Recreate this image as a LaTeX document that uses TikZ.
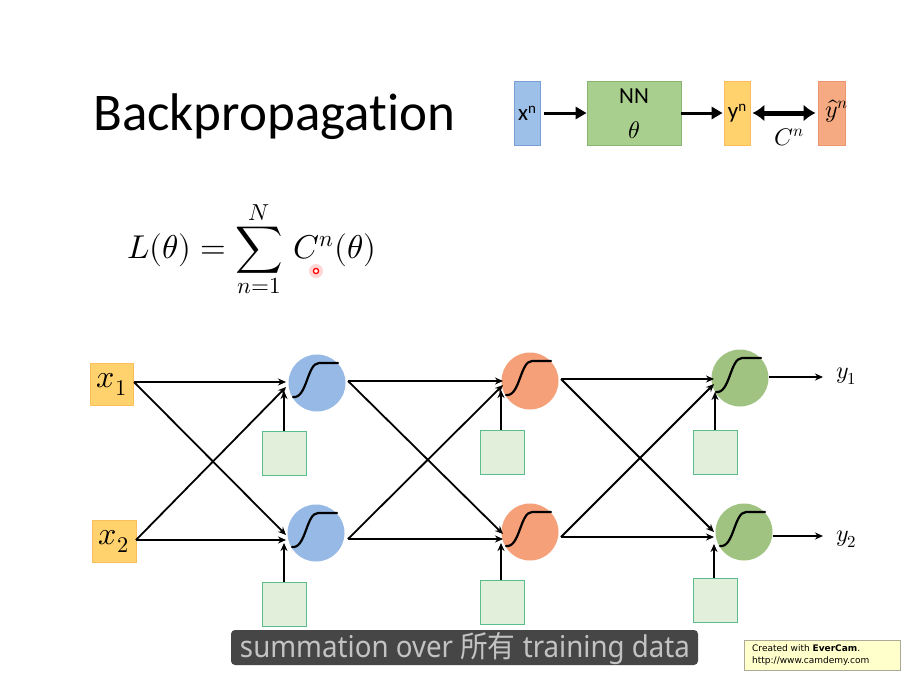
\documentclass[tikz,border=0pt]{standalone}
\usepackage{fontspec}
\usepackage{unicode-math}
\setmainfont{Carlito}[Ligatures={NoCommon}]
\setmathfont{Latin Modern Math}
\newfontfamily\subfont{Noto Sans}
\newfontfamily\cjk{Noto Sans CJK SC}
\newfontfamily\smallfont{DejaVu Sans}
\usetikzlibrary{arrows.meta}
\definecolor{nblue}{RGB}{150,185,230}
\definecolor{norange}{RGB}{245,160,120}
\definecolor{ngreen}{RGB}{160,195,130}
\definecolor{byellow}{RGB}{255,210,110}
\definecolor{ydraw}{RGB}{250,190,90}
\definecolor{biasfill}{RGB}{226,239,218}
\definecolor{biasdraw}{RGB}{90,190,140}
\definecolor{xblue}{RGB}{157,192,232}
\definecolor{xbluedraw}{RGB}{120,160,215}
\definecolor{nngreen}{RGB}{169,207,142}
\definecolor{nngreendraw}{RGB}{135,180,110}
\definecolor{yhatfill}{RGB}{246,170,130}
\definecolor{yhatdraw}{RGB}{235,150,110}
\definecolor{subbg}{RGB}{70,70,70}
\definecolor{subtext}{RGB}{195,195,195}
\definecolor{evyellow}{RGB}{255,255,204}
\definecolor{evgray}{RGB}{170,170,150}
\begin{document}
\begin{tikzpicture}[x=1pt,y=-1pt,
  neuron/.style={circle,minimum size=57pt,inner sep=0pt},
  biasbox/.style={rectangle,draw=biasdraw,fill=biasfill,line width=1pt,minimum width=44pt,minimum height=44pt,inner sep=0pt},
  inbox/.style={rectangle,draw=ydraw,fill=byellow,line width=0.8pt,minimum width=43pt,minimum height=42pt,inner sep=0pt,font=\fontsize{32}{32}\selectfont},
  tbox/.style={rectangle,line width=0.8pt,minimum height=64pt,inner sep=0pt,font=\fontsize{23}{23}\selectfont},
  conn/.style={line width=1.8pt,-{Stealth[length=8pt,width=7pt]}},
  toparrow/.style={line width=3pt,-{Triangle[length=11pt,width=12pt]}},
  sig/.style={line width=2.2pt,line cap=round},
  sigm/.pic={\draw[sig] (-24,14) .. controls (-10,16) and (-10,-20) .. (2,-20) -- (21,-20);},
]
\useasboundingbox (0,0) rectangle (915,675);
\fill[white] (0,0) rectangle (915,675);

% title
\node[anchor=base west,inner sep=0pt,font=\fontsize{53}{60}\selectfont] (title) at (93,130) {Backpropagation};

% top-right diagram
\node[tbox,fill=xblue,draw=xbluedraw,minimum width=26pt] (xn) at (527,113) {x\raisebox{7pt}{\fontsize{15}{15}\selectfont n}};
\node[tbox,fill=nngreen,draw=nngreendraw,minimum width=94pt] (nn) at (634,113) {};
\node[inner sep=0pt,font=\fontsize{23}{23}\selectfont] (nnlabel) at (634,96) {NN};
\node[inner sep=0pt,font=\fontsize{24}{24}\selectfont] (nntheta) at (634,130) {$\theta$};
\node[tbox,fill=byellow,draw=ydraw,minimum width=26pt] (yn) at (737,113) {y\raisebox{7pt}{\fontsize{15}{15}\selectfont n}};
\node[tbox,fill=yhatfill,draw=yhatdraw,minimum width=27pt] (yhat) at (831.5,113) {};
\node[inner sep=0pt,font=\fontsize{24}{24}\selectfont] (yhatlabel) at (837,111) {$\hat{y}^{n}$};
\draw[toparrow,shorten <=4pt] (xn.east) -- (nn.west);
\draw[toparrow] (nn.east) -- ([xshift=-1pt]yn.west);
\draw[line width=5pt,{Latex[length=12pt,width=17pt]}-{Latex[length=12pt,width=17pt]},shorten <=2pt,shorten >=2pt] (yn.east) -- (yhat.west);
\node[inner sep=0pt,font=\fontsize{24}{24}\selectfont] (cn) at (789,137) {$C^{n}$};

% formula
\node[anchor=base west,inner sep=0pt,font=\fontsize{33}{40}\selectfont] (loss) at (127,258) {$\displaystyle L(\theta)=\sum_{n=1}^{N}\,C^{n}(\theta)$};

% pointer
\coordinate (ptr) at (316,271);
\fill[red!45,opacity=0.35] (ptr) circle (7pt);
\draw[red,line width=1.3pt,fill=white] (ptr) circle (2.6pt);

% inputs
\node[inbox] (x1) at (112,384) {$x_1$};
\node[inbox,minimum width=44pt] (x2) at (114,541) {$x_2$};

% neurons
\node[neuron,fill=nblue] (L1a) at (317,383) {};
\node[neuron,fill=nblue] (L1b) at (316,533) {};
\node[neuron,fill=norange] (L2a) at (530,381) {};
\node[neuron,fill=norange] (L2b) at (530,532) {};
\node[neuron,fill=ngreen] (L3a) at (740,378) {};
\node[neuron,fill=ngreen] (L3b) at (744,532) {};
\foreach \n in {L1a,L1b,L2a,L2b,L3a,L3b} \pic at (\n) {sigm};

% biases
\node[biasbox] (B1a) at (284,453) {};
\node[biasbox] (B1b) at (284,604) {};
\node[biasbox] (B2a) at (502,452) {};
\node[biasbox] (B2b) at (502,602) {};
\node[biasbox] (B3a) at (715,452) {};
\node[biasbox] (B3b) at (715,600) {};

% outputs
\node[anchor=west,inner sep=0pt,font=\fontsize{24}{24}\selectfont] (y1) at (836,376) {$y_1$};
\node[anchor=west,inner sep=0pt,font=\fontsize{24}{24}\selectfont] (y2) at (836,539) {$y_2$};

% connection points
\coordinate (x1o) at (134,382);
\coordinate (x2o) at (136,540);
\coordinate (L1ah) at (286,382); \coordinate (L1ad) at (286,387); \coordinate (L1ab) at (284,391);
\coordinate (L1bh) at (286,540); \coordinate (L1bd) at (286,535); \coordinate (L1bb) at (284,543);
\coordinate (L1ao) at (348,381); \coordinate (L1bo) at (348,539);
\coordinate (L2ah) at (503,381); \coordinate (L2ad) at (503,385); \coordinate (L2ab) at (501,390);
\coordinate (L2bh) at (503,539); \coordinate (L2bd) at (503,534); \coordinate (L2bb) at (501,543);
\coordinate (L2ao) at (561,379); \coordinate (L2bo) at (561,537);
\coordinate (L3ah) at (714,379); \coordinate (L3ad) at (714,384); \coordinate (L3ab) at (715,392);
\coordinate (L3bh) at (714,537); \coordinate (L3bd) at (714,532); \coordinate (L3bb) at (714,544);
\coordinate (L3ao) at (769,377); \coordinate (L3bo) at (773,536);
\coordinate (y1i) at (823,377); \coordinate (y2i) at (823,536);

\draw[conn] (x1o) -- (L1ah);
\draw[conn] (x1o) -- (L1bd);
\draw[conn] (x2o) -- (L1ad);
\draw[conn] (x2o) -- (L1bh);
\draw[conn] (B1a.north) -- (L1ab);
\draw[conn] (B1b.north) -- (L1bb);

\draw[conn] (L1ao) -- (L2ah);
\draw[conn] (L1ao) -- (L2bd);
\draw[conn] (L1bo) -- (L2ad);
\draw[conn] (L1bo) -- (L2bh);
\draw[conn] ([xshift=-1pt]B2a.north) -- (L2ab);
\draw[conn] ([xshift=-1pt]B2b.north) -- (L2bb);

\draw[conn] (L2ao) -- (L3ah);
\draw[conn] (L2ao) -- (L3bd);
\draw[conn] (L2bo) -- (L3ad);
\draw[conn] (L2bo) -- (L3bh);
\draw[conn] (B3a.north) -- (L3ab);
\draw[conn] ([xshift=-1pt]B3b.north) -- (L3bb);

\draw[conn] (L3ao) -- (y1i);
\draw[conn] (L3bo) -- (y2i);

% subtitle
\node[fill=subbg,rounded corners=4pt,minimum width=467pt,minimum height=35pt,inner sep=0pt] (sub) at (464.5,647.5) {};
\node[text=subtext,inner sep=0pt,font=\subfont\fontsize{30}{30}\selectfont] (subtxt) at (465,648) {\resizebox{450pt}{\height}{summation over {\cjk 所有} training data}};

% EverCam
\node[draw=evgray,fill=evyellow,line width=0.6pt,minimum width=156pt,minimum height=30pt,inner sep=0pt] (ever) at (822,655) {};
\node[anchor=west,inner sep=0pt,align=left,font=\smallfont\fontsize{9}{12.5}\selectfont] (evertxt) at (752,655) {Created with \textbf{EverCam}.\\http://www.camdemy.com};
\end{tikzpicture}
\end{document}
